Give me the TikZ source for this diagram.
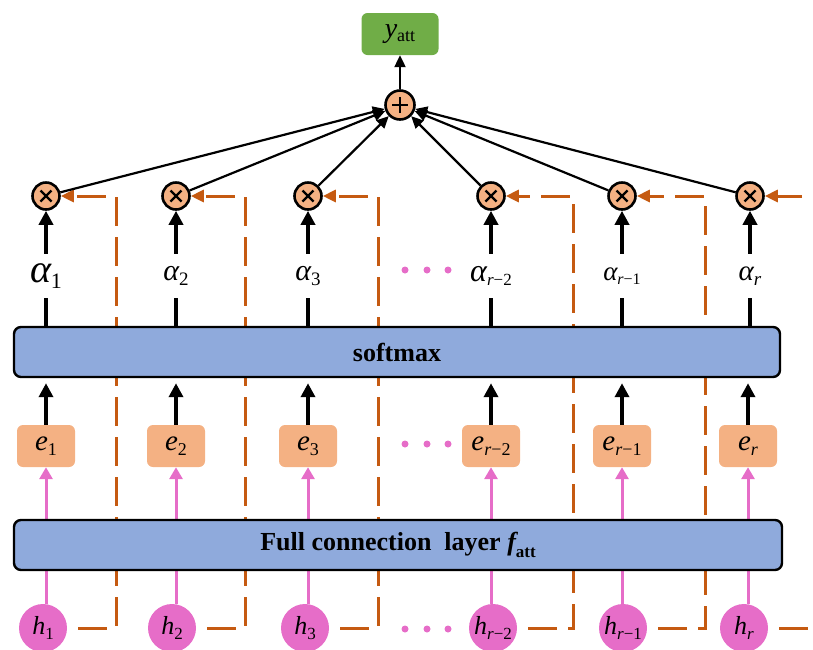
\documentclass[tikz,border=0pt]{standalone}
\usepackage{fontspec}
\setmainfont{Liberation Serif}
\usetikzlibrary{arrows.meta,calc}
\pgfdeclarelayer{bg}
\pgfsetlayers{bg,main}

\definecolor{boxblue}{HTML}{8FAADC}
\definecolor{peach}{HTML}{F4B183}
\definecolor{leaf}{HTML}{70AD47}
\definecolor{rust}{HTML}{C55A11}
\definecolor{orchid}{HTML}{E66DC8}

% symbol with a lowered subscript: #1 main size, #2 subscript size
\newcommand\sym[4]{{\fontsize{#1pt}{#1pt}\selectfont\itshape #3}{\fontsize{#2pt}{#2pt}\selectfont\raisebox{-0.25em}{#4}}}

\begin{document}
\begin{tikzpicture}[x=1pt,y=-1pt,
  otimes/.style={circle,draw,line width=2.6pt,fill=peach,minimum size=27pt,inner sep=0pt,
    path picture={\draw[line width=2.2pt]
      ($(path picture bounding box.center)+(-5.5pt,-5.5pt)$) -- ++(11pt,11pt)
      ($(path picture bounding box.center)+(-5.5pt,5.5pt)$) -- ++(11pt,-11pt);}},
  oplus/.style={circle,draw,line width=2.6pt,fill=peach,minimum size=29pt,inner sep=0pt,
    path picture={\draw[line width=2.2pt]
      ($(path picture bounding box.center)+(-8pt,0pt)$) -- ++(16pt,0pt)
      ($(path picture bounding box.center)+(0pt,-8pt)$) -- ++(0pt,16pt);}},
  layerbox/.style={draw,line width=2.4pt,fill=boxblue,rounded corners=7pt,
    minimum width=766pt,minimum height=50pt,inner sep=0pt},
  ebox/.style={fill=peach,rounded corners=6pt,minimum width=58pt,minimum height=42pt,inner sep=0pt},
  ybox/.style={fill=leaf,rounded corners=6pt,minimum width=77pt,minimum height=42pt,inner sep=0pt},
  hnode/.style={circle,fill=orchid,minimum size=48pt,inner sep=0pt},
  alab/.style={minimum height=44pt,inner sep=0pt},
  pdot/.style={circle,fill=orchid,minimum size=7pt,inner sep=0pt},
  blackarrow/.style={line width=3.5pt,-{Triangle[length=14pt,width=14pt]}},
  blackline/.style={line width=3.5pt},
  sumarrow/.style={line width=2.2pt,-{Triangle[length=12pt,width=11pt]}},
  pinkarrow/.style={color=orchid,line width=3pt,-{Triangle[length=12pt,width=13pt]}},
  feedback/.style={draw=rust,line width=3pt,dash pattern=on 29pt off 11pt,dash phase=29pt},
  feedtip/.style={-{Triangle[length=13pt,width=12pt]}}
]
\useasboundingbox (0,0) rectangle (813,649);

% output and summation
\node[ybox] (y) at (400,34) {\sym{28}{18}{y}{att}};
\node[oplus] (plus) at (400,105) {};

% weighting nodes
\node[otimes] (m1) at (46,196) {};
\node[otimes] (m2) at (176,196) {};
\node[otimes] (m3) at (308,196) {};
\node[otimes] (m4) at (491,196) {};
\node[otimes] (m5) at (622,196) {};
\node[otimes] (m6) at (750,196) {};

% attention weights
\node[alab] (a1) at (46,276) {\sym{40}{22}{α}{1}};
\node[alab] (a2) at (176,276) {\sym{30}{19}{α}{2}};
\node[alab] (a3) at (308,276) {\sym{30}{19}{α}{3}};
\node[alab] (a4) at (491,276) {\sym{32}{17}{α}{\textit{r}−2}};
\node[alab] (a5) at (622,276) {\sym{27}{16}{α}{\textit{r}−1}};
\node[alab] (a6) at (750,276) {\sym{29}{19}{α}{\textit{r}}};

\node[layerbox] (sm) at (397,352) {\fontsize{26pt}{26pt}\selectfont\bfseries softmax};

% scores
\node[ebox] (e1) at (46,446) {\sym{29}{18}{e}{1}};
\node[ebox] (e2) at (176,446) {\sym{29}{18}{e}{2}};
\node[ebox] (e3) at (308,446) {\sym{29}{18}{e}{3}};
\node[ebox] (e4) at (491,446) {\sym{29}{18}{e}{\textit{r}−2}};
\node[ebox] (e5) at (622,446) {\sym{29}{18}{e}{\textit{r}−1}};
\node[ebox] (e6) at (748,446) {\sym{29}{18}{e}{\textit{r}}};

\node[layerbox,minimum width=768pt] (fc) at (398,545)
  {\fontsize{26pt}{26pt}\selectfont\bfseries Full connection~~layer {\itshape f}\raisebox{-0.25em}{\fontsize{17pt}{17pt}\selectfont att}};

% hidden states
\node[hnode] (h1) at (43,628) {\sym{26}{17}{h}{1}};
\node[hnode] (h2) at (172,628) {\sym{26}{17}{h}{2}};
\node[hnode] (h3) at (305,628) {\sym{26}{17}{h}{3}};
\node[hnode] (h4) at (493,628) {\sym{26}{17}{h}{\textit{r}−2}};
\node[hnode] (h5) at (623,628) {\sym{26}{17}{h}{\textit{r}−1}};
\node[hnode] (h6) at (744,628) {\sym{26}{17}{h}{\textit{r}}};

% ellipsis dots
\foreach \yy/\rw in {270/a,444/e,629/h}{
  \node[pdot] (\rw dA) at (405,\yy) {};
  \node[pdot] (\rw dB) at (427,\yy) {};
  \node[pdot] (\rw dC) at (448,\yy) {};
}

% turning points of the feedback lines
\coordinate (v1) at (116,196);
\coordinate (v2) at (245,196);
\coordinate (v3) at (378,196);
\coordinate (v4) at (573,196);
\coordinate (v5) at (705,196);
\coordinate (rtop) at (813,196);
\coordinate (rbot) at (813,628);

\begin{pgfonlayer}{bg}
  \foreach \i in {1,...,5}{
    \draw[feedback,feedtip] (h\i.east) -| (v\i) -- (m\i.east);
  }
  \draw[feedback,feedtip] (rtop) -- (m6.east);
  \draw[feedback] (h6.east) -- (rbot);
  \foreach \i in {1,...,6}{
    \draw[pinkarrow] (e\i.south |- h\i.north) -- (e\i.south);
  }
\end{pgfonlayer}

\foreach \i in {1,...,6}{
  \draw[blackarrow,shorten >=5pt] (e\i.north) -- (e\i.north |- sm.south);
  \draw[blackline] (sm.north -| a\i) -- (a\i.south);
  \draw[blackarrow] (a\i.north) -- (m\i.south);
  \draw[sumarrow] (m\i) -- (plus);
}
\draw[sumarrow] (plus) -- (y);
\end{tikzpicture}
\end{document}
